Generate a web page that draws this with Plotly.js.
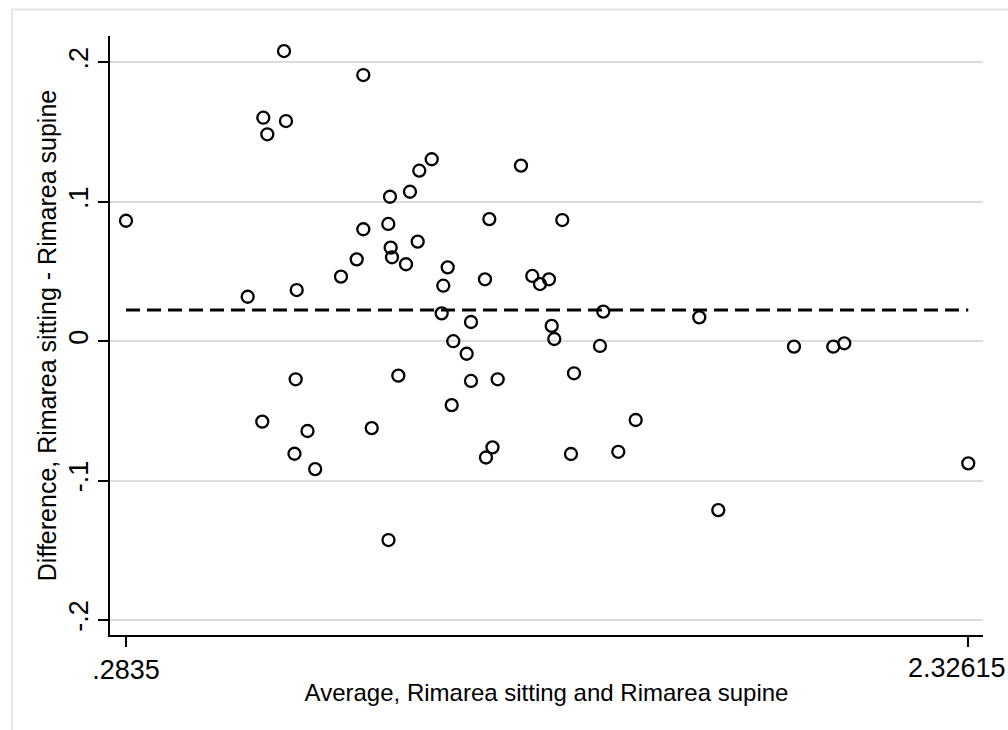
<!DOCTYPE html>
<html>
<head>
<meta charset="utf-8">
<script src="https://cdn.plot.ly/plotly-3.0.1.min.js"></script>
<style>
  html, body { margin: 0; padding: 0; background: #ffffff; }
  #chart { width: 1008px; height: 730px; }
</style>
</head>
<body>
<div id="chart"></div>
<script>
// Average of the two measurements (x) and their difference (y)
const averageRimarea = [
  0.2835, 0.6667, 0.8590, 0.6165, 0.6715, 0.6262, 1.0249, 0.9948, 0.9722, 0.9237,
  1.2414, 1.1646, 1.3416, 0.9196, 0.8590, 0.9909, 0.9254, 0.9286, 0.8430, 0.9625,
  0.8049, 1.0637, 1.0530, 1.1541, 1.2688, 1.2875, 1.3093, 0.5786, 0.6975, 1.0491,
  1.1202, 1.3159, 1.3222, 1.4410, 1.0772, 1.1097, 1.4330, 1.6738, 0.9439, 0.6950,
  1.1202, 1.1849, 1.3700, 1.0734, 0.6140, 0.7237, 0.8794, 0.6921, 0.7423, 0.9201,
  1.1723, 1.1565, 1.5196, 1.3627, 1.4774, 1.7199, 1.9035, 1.9988, 2.0255, 2.32615
];
const differenceRimarea = [
  0.0864, 0.2081, 0.1909, 0.1603, 0.1579, 0.1484, 0.1305, 0.1223, 0.1072, 0.1036,
  0.1259, 0.0876, 0.0869, 0.0841, 0.0803, 0.0714, 0.0671, 0.0602, 0.0587, 0.0552,
  0.0463, 0.0530, 0.0398, 0.0444, 0.0468, 0.0410, 0.0444, 0.0319, 0.0367, 0.0200,
  0.0138, 0.0110, 0.0016, 0.0212, 0.0000, -0.0090, -0.0034, 0.0171, -0.0247, -0.0273,
  -0.0285, -0.0273, -0.0230, -0.0458, -0.0577, -0.0644, -0.0623, -0.0807, -0.0917, -0.1426,
  -0.0761, -0.0834, -0.0565, -0.0809, -0.0793, -0.1211, -0.0039, -0.0039, -0.0015, -0.0876
];
const meanDifference = 0.0224;

const xTickVals = [0.2835, 2.32615];
const xTickText = ['.2835', '2.32615'];
const yTickVals = [-0.2, -0.1, 0, 0.1, 0.2];
const yTickText = ['-.2', '-.1', '0', '.1', '.2'];

const xTitle = 'Average, Rimarea sitting and Rimarea supine';
const yTitle = 'Difference, Rimarea sitting - Rimarea supine';

const xMin = Math.min(...averageRimarea);
const xMax = Math.max(...averageRimarea);

const traces = [
  {
    type: 'scatter',
    mode: 'lines',
    x: [xMin, xMax],
    y: [meanDifference, meanDifference],
    line: { color: '#000000', width: 3, dash: '14px,7px' },
    hoverinfo: 'skip',
    showlegend: false
  },
  {
    type: 'scatter',
    mode: 'markers',
    x: averageRimarea,
    y: differenceRimarea,
    marker: {
      symbol: 'circle-open',
      size: 12,
      color: '#000000',
      line: { color: '#000000', width: 2.3 }
    },
    showlegend: false
  }
];

const fontFamily = '"Liberation Sans", Arial, Helvetica, sans-serif';
const tickFont = { family: fontFamily, size: 27, color: '#000000' };

// the last x tick label is placed as an annotation so it can be nudged inside the page
const xTickTextShown = xTickText.map((t, i) => (i === xTickText.length - 1 ? '' : t));

const layout = {
  width: 1008,
  height: 730,
  paper_bgcolor: '#ffffff',
  plot_bgcolor: '#ffffff',
  margin: { l: 110, r: 25, t: 36, b: 95 },
  font: { family: fontFamily, color: '#000000', size: 24 },
  showlegend: false,
  xaxis: {
    range: [0.2447, 2.3619],
    tickmode: 'array',
    tickvals: xTickVals,
    ticktext: xTickTextShown,
    ticks: 'outside',
    ticklen: 10,
    tickwidth: 2,
    tickcolor: '#000000',
    showline: true,
    linecolor: '#000000',
    linewidth: 2,
    showgrid: false,
    zeroline: false,
    tickfont: tickFont,
    title: { text: xTitle, font: { family: fontFamily, size: 24, color: '#000000' }, standoff: 0 }
  },
  yaxis: {
    range: [-0.2107, 0.2189],
    tickmode: 'array',
    tickvals: yTickVals,
    ticktext: yTickText,
    tickangle: -90,
    ticks: 'outside',
    ticklen: 10,
    tickwidth: 2,
    tickcolor: '#000000',
    ticklabelstandoff: -1,
    showline: true,
    linecolor: '#000000',
    linewidth: 2,
    showgrid: true,
    gridcolor: '#dcdcdc',
    gridwidth: 2,
    zeroline: false,
    tickfont: tickFont,
    title: { text: yTitle, font: { family: fontFamily, size: 25, color: '#000000' }, standoff: 0 }
  },
  annotations: [
    {
      xref: 'x', yref: 'paper',
      x: xTickVals[xTickVals.length - 1], y: 0,
      text: xTickText[xTickText.length - 1],
      showarrow: false,
      xanchor: 'center', yanchor: 'top',
      xshift: -11, yshift: -16,
      font: tickFont
    }
  ],
  shapes: [
    {
      type: 'rect',
      xref: 'paper', yref: 'paper',
      x0: -0.1123, x1: 1.08, y0: -0.2, y1: 1.0442,
      line: { color: '#e6e6e6', width: 2 },
      fillcolor: 'rgba(0,0,0,0)',
      layer: 'below'
    }
  ]
};

Plotly.newPlot('chart', traces, layout, { displayModeBar: false, staticPlot: true });
</script>
</body>
</html>
